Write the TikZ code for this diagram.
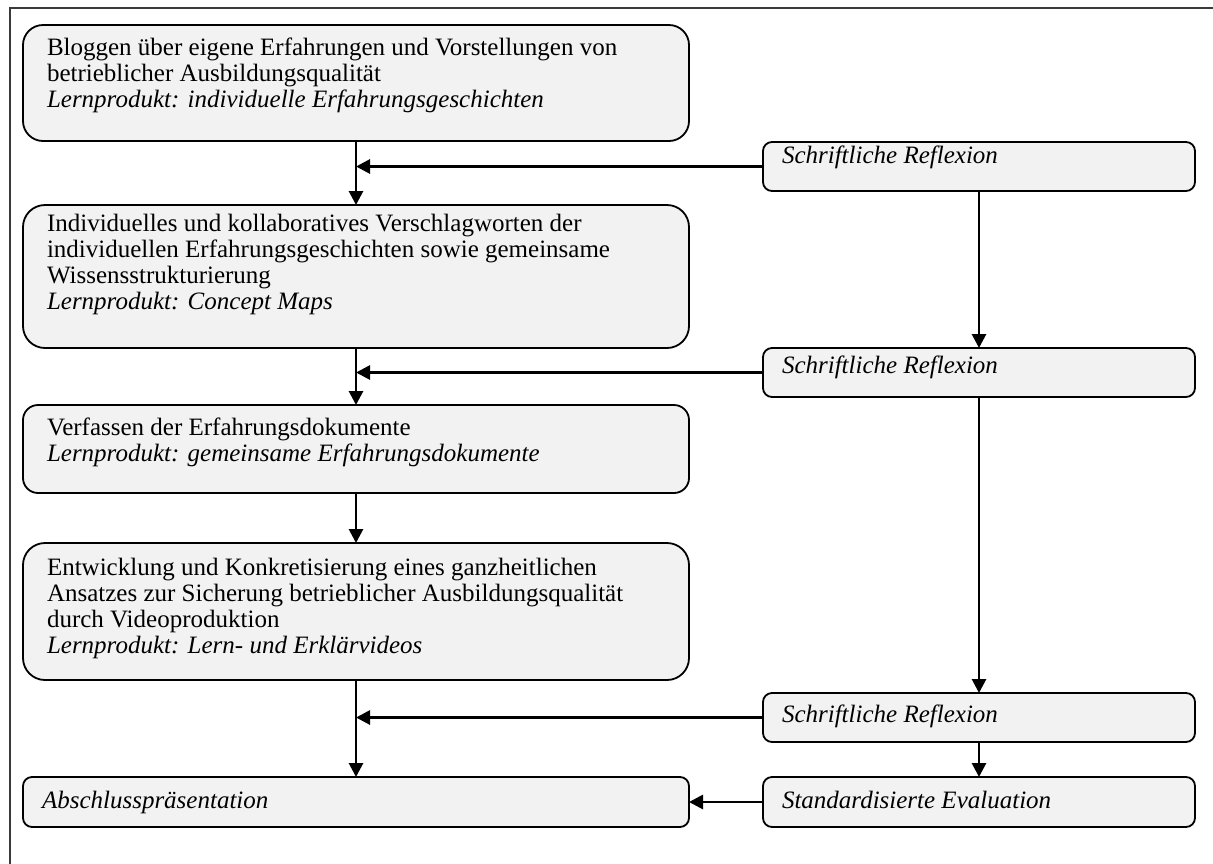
\documentclass[tikz,border=0pt]{standalone}
\usepackage{fontspec}
\setmainfont{Liberation Serif}
\usetikzlibrary{arrows.meta}
\definecolor{boxfill}{HTML}{F2F2F2}
\definecolor{framecol}{HTML}{3A3A3A}
\begin{document}
\begin{tikzpicture}[x=1pt,y=-1pt,
  box/.style={draw, line width=1.8pt, fill=boxfill, anchor=north west, inner sep=0pt, outer sep=0pt},
  bigbox/.style={box, minimum width=666pt},
  smallbox/.style={box, minimum width=432pt, minimum height=49pt, rounded corners=9pt},
  txt/.style={anchor=base west, inner sep=0pt, outer sep=0pt, font=\fontsize{25}{26}\selectfont},
  arr/.style={line width=2.8pt, -{Triangle[length=14pt,width=14pt]}}]
\useasboundingbox (0,0) rectangle (1213,863);
\fill[white] (0,0) rectangle (1213,863);
% outer frame
\draw[framecol, line width=1.8pt] (10,870) -- (10,8) -- (1220,8);

% main boxes
\node[bigbox, minimum height=116pt, rounded corners=20pt] (b1) at (23,25) {};
\node[bigbox, minimum height=143pt, rounded corners=22pt] (b2) at (23,205) {};
\node[bigbox, minimum height=88pt, rounded corners=15pt] (b3) at (23,405) {};
\node[bigbox, minimum height=137pt, rounded corners=22pt] (b4) at (23,543) {};
\node[bigbox, minimum height=50pt, rounded corners=9pt] (ab) at (23,777) {};

% side boxes
\node[smallbox] (r1) at (763,142) {};
\node[smallbox] (r2) at (763,348) {};
\node[smallbox] (r3) at (763,693) {};
\node[smallbox, minimum height=50pt] (ev) at (763,777) {};

% texts
\node[txt] (t1) at ([xshift=24pt,yshift=-30pt]b1.north west) {\begin{tabular}[t]{@{}l@{}}Bloggen über eigene Erfahrungen und Vorstellungen von\\ betrieblicher Ausbildungsqualität\\ \textit{Lernprodukt: individuelle Erfahrungsgeschichten}\end{tabular}};
\node[txt] (t2) at ([xshift=24pt,yshift=-26pt]b2.north west) {\begin{tabular}[t]{@{}l@{}}Individuelles und kollaboratives Verschlagworten der\\ individuellen Erfahrungsgeschichten sowie gemeinsame\\ Wissensstrukturierung\\ \textit{Lernprodukt: Concept Maps}\end{tabular}};
\node[txt] (t3) at ([xshift=24pt,yshift=-30pt]b3.north west) {\begin{tabular}[t]{@{}l@{}}Verfassen der Erfahrungsdokumente\\ \textit{Lernprodukt: gemeinsame Erfahrungsdokumente}\end{tabular}};
\node[txt] (t4) at ([xshift=24pt,yshift=-32pt]b4.north west) {\begin{tabular}[t]{@{}l@{}}Entwicklung und Konkretisierung eines ganzheitlichen\\ Ansatzes zur Sicherung betrieblicher Ausbildungsqualität\\ durch Videoproduktion\\ \textit{Lernprodukt: Lern- und Erklärvideos}\end{tabular}};
\node[txt] (t5) at ([xshift=19pt,yshift=-31pt]ab.north west) {\textit{Abschlusspräsentation}};
\node[txt] (t6) at ([xshift=19pt,yshift=-21pt]r1.north west) {\textit{Schriftliche Reflexion}};
\node[txt] (t7) at ([xshift=19pt,yshift=-25pt]r2.north west) {\textit{Schriftliche Reflexion}};
\node[txt] (t8) at ([xshift=19pt,yshift=-29pt]r3.north west) {\textit{Schriftliche Reflexion}};
\node[txt] (t9) at ([xshift=19pt,yshift=-31pt]ev.north west) {\textit{Standardisierte Evaluation}};

% main flow
\draw[arr] (b1.south) -- (b2.north);
\draw[arr] (b2.south) -- (b3.north);
\draw[arr] (b3.south) -- (b4.north);
\draw[arr] (b4.south) -- (ab.north);

% side flow
\draw[arr] (r1.south) -- (r2.north);
\draw[arr] (r2.south) -- (r3.north);
\draw[arr] (r3.south) -- (ev.north);

% reflections into main flow
\draw[arr] (r1.west) -- (r1.west -| b1.south);
\draw[arr] (r2.west) -- (r2.west -| b2.south);
\draw[arr] (r3.west) -- (r3.west -| b4.south);
\draw[arr] (ev.west) -- (ab.east);
\end{tikzpicture}
\end{document}
